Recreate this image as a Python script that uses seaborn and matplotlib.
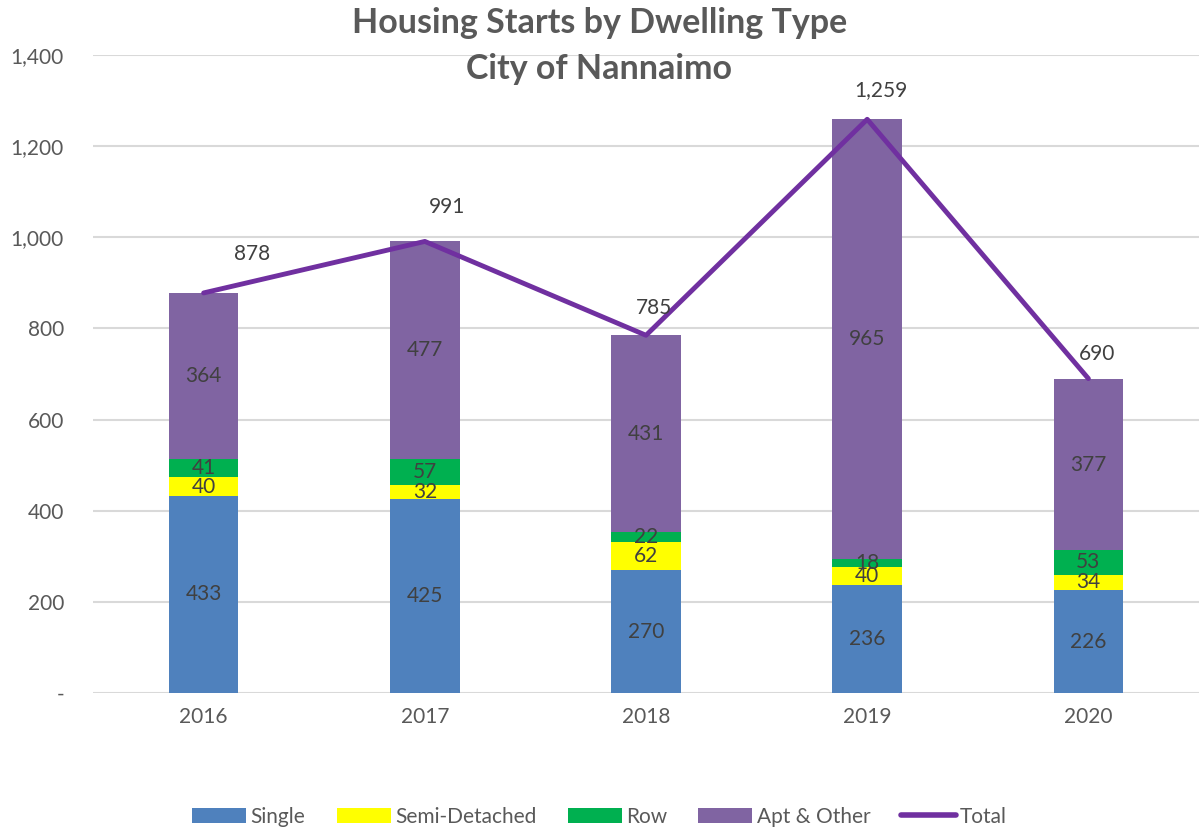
import numpy as np
import matplotlib
matplotlib.use("Agg")
import matplotlib.pyplot as plt
import seaborn as sns
from matplotlib.ticker import FuncFormatter
from matplotlib.lines import Line2D
from matplotlib.patches import Patch

years = ["2016", "2017", "2018", "2019", "2020"]
single = [433, 425, 270, 236, 226]
semi = [40, 32, 62, 40, 34]
row = [41, 57, 22, 18, 53]
apt = [364, 477, 431, 965, 377]
total = [878, 991, 785, 1259, 690]

series_names = ["Single", "Semi-Detached", "Row", "Apt & Other"]
colors = ["#4F81BD", "#FFFF00", "#00B050", "#8064A2"]
line_color = "#7030A0"
# label offsets (points) for the total labels, as positioned in the source
total_offsets = [(35, 28), (16, 25), (6, 20), (10, 21), (6, 18)]

sns.set_theme(style="white")
plt.rcParams["font.family"] = ["Lato", "DejaVu Sans"]

fig = plt.figure(figsize=(11.99, 8.30), dpi=100)
ax = fig.add_axes([0.0776, 0.165, 0.9224, 0.7687])

idx = np.arange(len(years))
bottom = np.zeros(len(years))
for name, vals, col in zip(series_names, [single, semi, row, apt], colors):
    sns.barplot(x=idx, y=vals, bottom=bottom, color=col, width=0.315,
                ax=ax, native_scale=True, saturation=1, linewidth=0)
    for i, v in enumerate(vals):
        ax.text(idx[i], bottom[i] + v / 2, str(v), ha="center", va="center",
                fontsize=15, color="#404040")
    bottom = bottom + np.array(vals)

sns.lineplot(x=idx, y=total, color=line_color, linewidth=3.5, ax=ax,
             solid_capstyle="round")
for i, t in enumerate(total):
    ax.annotate(f"{t:,}", (idx[i], t), xytext=total_offsets[i],
                textcoords="offset points", ha="center", va="center",
                fontsize=15, color="#404040")

ax.set_xlim(-0.5, 4.5)
ax.set_ylim(0, 1400)
ax.set_yticks(range(0, 1401, 200))
ax.yaxis.set_major_formatter(FuncFormatter(lambda v, p: "-" if v == 0 else f"{int(v):,}"))
ax.set_xticks(idx)
ax.set_xticklabels(years)
ax.tick_params(axis="both", labelsize=15, colors="#595959", length=0)
ax.tick_params(axis="y", pad=21)
ax.tick_params(axis="x", pad=10)
ax.grid(axis="y", color="#D9D9D9", linewidth=1.5)
ax.set_axisbelow(True)
for s in ax.spines.values():
    s.set_visible(False)
ax.set_xlabel("")
ax.set_ylabel("")

fig.text(0.5, 0.972, "Housing Starts by Dwelling Type", ha="center", va="center",
         fontsize=24.5, fontweight="bold", color="#595959")
fig.text(0.5, 0.917, "City of Nannaimo", ha="center", va="center",
         fontsize=24.5, fontweight="bold", color="#595959")

handles = [Patch(facecolor=c, edgecolor="none") for c in colors]
handles.append(Line2D([0], [0], color=line_color, linewidth=4, solid_capstyle="round"))
labels = series_names + ["Total"]
fig.legend(handles, labels, loc="center", bbox_to_anchor=(0.5, 0.016), ncol=5,
           frameon=False, fontsize=15, labelcolor="#595959", handlelength=2.6,
           handleheight=0.7, columnspacing=1.5, handletextpad=0.2)

fig.savefig("out.png", dpi=100)
